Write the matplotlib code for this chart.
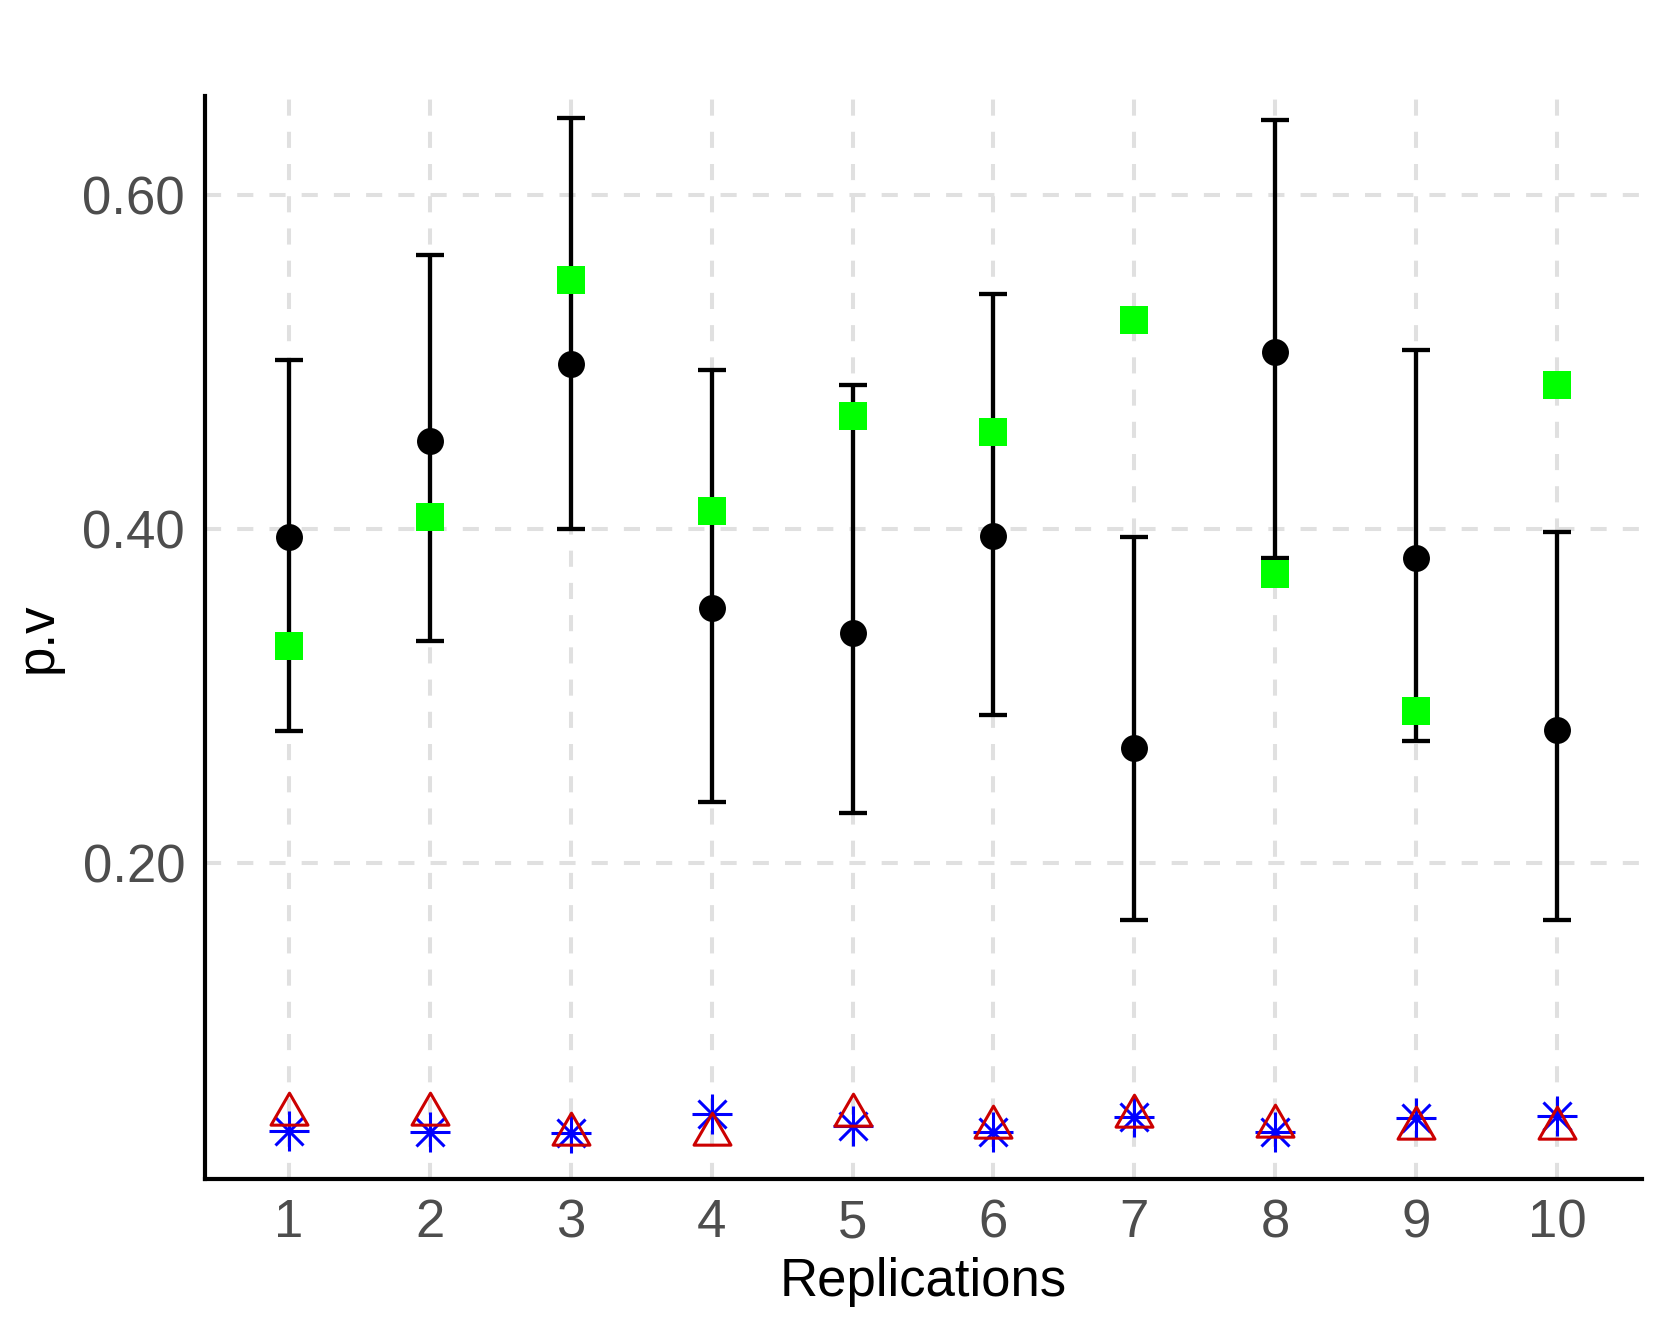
import matplotlib
matplotlib.use("Agg")
import matplotlib.pyplot as plt
import numpy as np
from matplotlib.path import Path

plt.rcParams['font.family'] = ['Liberation Sans', 'DejaVu Sans']

replications = [1, 2, 3, 4, 5, 6, 7, 8, 9, 10]
x_labels = ["1", "2", "3", "4", "5", "6", "7", "8", "9", "10"]
mean_pv = [0.395, 0.453, 0.499, 0.353, 0.338, 0.396, 0.269, 0.506, 0.383, 0.280]
upper_pv = [0.501, 0.564, 0.646, 0.495, 0.486, 0.541, 0.395, 0.645, 0.507, 0.398]
lower_pv = [0.279, 0.333, 0.400, 0.237, 0.230, 0.289, 0.166, 0.383, 0.273, 0.166]
green_pv = [0.330, 0.407, 0.549, 0.411, 0.468, 0.458, 0.525, 0.373, 0.291, 0.486]
triangle_pv = [0.0498, 0.0498, 0.0382, 0.0383, 0.0493, 0.0422, 0.0488, 0.0428, 0.0415, 0.0415]
star_pv = [0.0399, 0.0391, 0.0385, 0.0500, 0.0428, 0.0391, 0.0484, 0.0391, 0.0474, 0.0490]
y_ticks = [0.20, 0.40, 0.60]
y_ticklabels = ["0.20", "0.40", "0.60"]

W, H = 1661, 1332
fig = plt.figure(figsize=(W / 100, H / 100), dpi=100)
left, right, top, bottom = 204.5, 1641.5, 96, 1179
ax = fig.add_axes([left / W, 1 - bottom / H, (right - left) / W, (bottom - top) / H])

x = np.array(replications)
mean = np.array(mean_pv)
yerr = np.vstack([mean - np.array(lower_pv), np.array(upper_pv) - mean])

# grid
grid_kw = dict(color="#E0E0E0", lw=2.9, dashes=(4, 4), zorder=0)
for yt in y_ticks:
    ax.axhline(yt, **grid_kw)
for xt in x:
    ax.axvline(xt, **grid_kw)

ax.errorbar(x, mean, yerr=yerr, fmt="none", ecolor="black", elinewidth=3.1,
            capsize=10.3, capthick=3.1, zorder=2)
ax.plot(x, green_pv, "s", color="#00FF00", ms=19.6, mew=0, zorder=3)
ax.plot(x, mean, "o", color="black", ms=19.4, mew=0, zorder=4)

# asterisk (pch 8)
ax.plot(x, star_pv, "+", color="#0000FF", ms=29, mew=2.2, zorder=5)
ax.plot(x, star_pv, "x", color="#0000FF", ms=20.5, mew=2.2, zorder=5)

# open triangle centred at centroid (pch 2)
tri = Path([(0, 1), (-0.866, -0.5), (0.866, -0.5), (0, 1)],
           [Path.MOVETO, Path.LINETO, Path.LINETO, Path.CLOSEPOLY])
ax.plot(x, triangle_pv, linestyle="none", marker=tri, ms=30.7, mfc="none",
        mec="#CC0000", mew=2.2, zorder=6)

ax.set_xlim(0.4, 10.6)
ax.set_ylim(0.0111, 0.6592)
ax.set_xticks(x)
ax.set_xticklabels(x_labels)
ax.set_yticks(y_ticks)
ax.set_yticklabels(y_ticklabels)

for s in ["top", "right"]:
    ax.spines[s].set_visible(False)
for s in ["left", "bottom"]:
    ax.spines[s].set_linewidth(3.0)
    ax.spines[s].set_color("black")

ax.tick_params(axis="both", length=0, labelsize=38, labelcolor="#4D4D4D")
ax.tick_params(axis="x", pad=14)
ax.tick_params(axis="y", pad=14)
ax.set_xlabel("Replications", fontsize=38, color="black", labelpad=6)
ax.set_ylabel("p.v", fontsize=38, color="black", labelpad=14)

fig.savefig("out.png", dpi=100, facecolor="white")
